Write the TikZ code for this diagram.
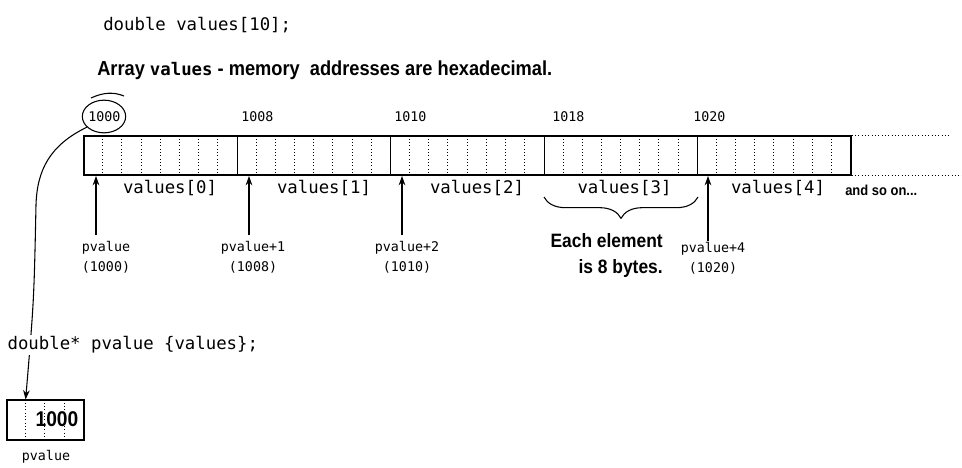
\documentclass[tikz,border=0pt]{standalone}
\usepackage{fontspec}
\setmonofont{DejaVu Sans Mono}
\newfontfamily\cond[FakeStretch=0.9]{Liberation Sans}
\usetikzlibrary{shapes.geometric,decorations.pathreplacing,arrows.meta,backgrounds}
\begin{document}
\begin{tikzpicture}[x=0.75pt,y=-0.75pt,
  code/.style={font=\fontsize{13}{15}\selectfont\ttfamily, inner sep=0pt},
  small/.style={font=\fontsize{10}{15}\selectfont\ttfamily, inner sep=0pt},
  cell/.style={draw, line width=0.8pt, minimum width=115.05pt, minimum height=29.25pt, inner sep=0pt},
  dots/.style={dotted, line width=0.5pt},
  ptr/.style={-{Stealth[length=7pt,width=5pt]}, line width=0.8pt},
  lab/.style={font=\cond\bfseries\fontsize{15.2}{18}\selectfont, inner sep=0pt}]
\useasboundingbox (0,0) rectangle (962,467);

\node[code, anchor=west] (decl) at (103,25) {double values[10];};
\node[lab, anchor=west] (title) at (97,70) {Array {\ttfamily\bfseries\fontsize{13}{15}\selectfont values} - memory\ \ addresses are hexadecimal.};

\foreach \i/\cx in {0/160.7,1/314.1,2/467.5,3/620.9,4/774.3} {
  \node[cell] (e\i) at (\cx,155.5) {};
  \foreach \k in {1,...,7}
    \draw[dots] ([xshift=\k*14.38pt]e\i.north west) -- ([xshift=\k*14.38pt]e\i.south west);
}
\draw[dots] (e4.north east) -- ++(97,0);
\draw[dots] (e4.south east) -- ++(111,0);

\node[small, anchor=west] (a0) at (88,117) {1000};
\node[small, anchor=west] (a1) at (241,117) {1008};
\node[small, anchor=west] (a2) at (394,117) {1010};
\node[small, anchor=west] (a3) at (552,117) {1018};
\node[small, anchor=west] (a4) at (693,117) {1020};

\node[draw, ellipse, minimum width=32.5pt, minimum height=24.5pt, line width=0.8pt] (circ) at (104,116.5) {};
\draw[line width=0.8pt] (91,98) .. controls (104,92) and (114,92) .. (124,96);

\node[code] (v0) at (170,188) {values[0]};
\node[code] (v1) at (324,188) {values[1]};
\node[code] (v2) at (477,188) {values[2]};
\node[code] (v3) at (624.5,188) {values[3]};
\node[code] (v4) at (778,188) {values[4]};
\node[lab, font=\cond\bfseries\fontsize{10.8}{13}\selectfont, anchor=west] (more) at (845,190) {and so on...};

\coordinate (t0) at (96,176);
\coordinate (t1) at (249,176);
\coordinate (t2) at (402,176);
\coordinate (t4) at (708,176);

\node[small, align=center] (p0) at (106,257) {pvalue\\(1000)};
\node[small, align=center] (p1) at (253,257) {pvalue+1\\(1008)};
\node[small, align=center] (p2) at (407,257) {pvalue+2\\(1010)};
\node[small, align=center] (p4) at (713,258.5) {pvalue+4\\(1020)};

\draw[ptr] ([yshift=4pt]p0.north -| t0) -- (t0);
\draw[ptr] ([yshift=4pt]p1.north -| t1) -- (t1);
\draw[ptr] ([yshift=4pt]p2.north -| t2) -- (t2);
\draw[ptr] ([yshift=1pt]p4.north -| t4) -- (t4);

\draw[decorate, decoration={brace, mirror, amplitude=16pt}, line width=0.8pt] (544,197) -- (698,197);
\node[lab, font=\cond\bfseries\fontsize{14.5}{19.5}\selectfont, align=right, anchor=east] (each) at (663,255) {Each element\\is 8 bytes.};

\node[code, anchor=west, fill=white, inner sep=1pt] (decl2) at (6,345) {double* pvalue \{values\};};

\node[cell, minimum width=57.75pt, minimum height=30pt] (pbox) at (45.5,420) {};
\foreach \k in {1,2,3}
  \draw[dots] ([xshift=\k*14.38pt]pbox.north west) -- ([xshift=\k*14.38pt]pbox.south west);
\node[lab, font=\cond\bfseries\fontsize{16}{18}\selectfont] (pval) at (57,419) {1000};
\node[small] (pname) at (46,457) {pvalue};

\begin{pgfonlayer}{background}
\draw[ptr] (circ.212) .. controls (50,145) and (37,170) .. (36,205) .. controls (34,300) .. ([xshift=14.38pt]pbox.north west);
\end{pgfonlayer}
\end{tikzpicture}
\end{document}
